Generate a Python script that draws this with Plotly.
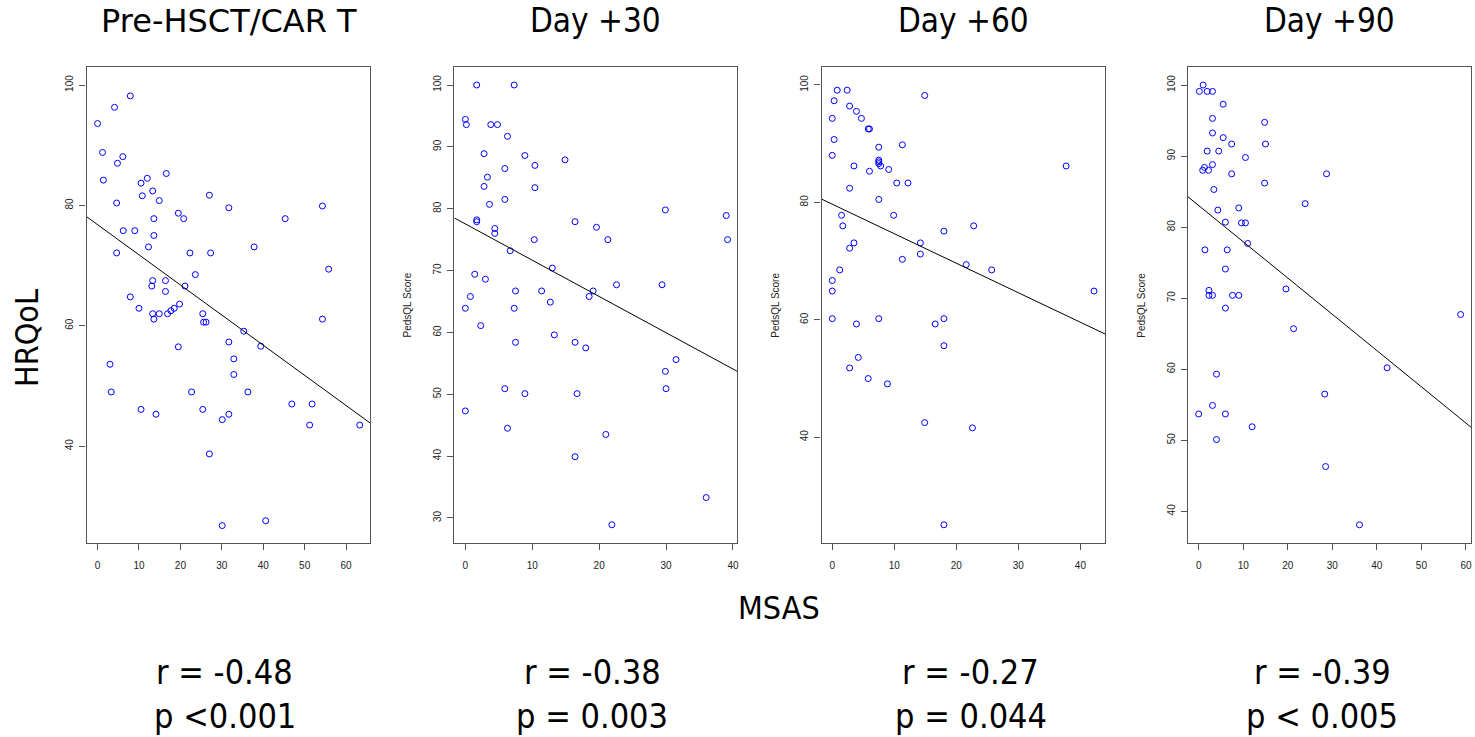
import plotly.graph_objects as go

W, H = 1475, 737

titles = ["Pre-HSCT/CAR T", "Day +30", "Day +60", "Day +90"]
r_labels = ["r = -0.48", "r = -0.38", "r = -0.27", "r = -0.39"]
p_labels = ["p <0.001", "p = 0.003", "p = 0.044", "p < 0.005"]

# Pre-HSCT/CAR T
x1 = [0, 4.1, 7.9, 1.2, 6.1, 4.8, 1.4, 12.0, 16.6, 10.5, 10.8, 13.3, 4.6, 14.9, 27.0, 31.7,
      54.3, 19.5, 20.8, 13.6, 45.3, 6.2, 9.0, 13.6, 12.3, 37.8, 4.6, 22.3, 27.3, 55.8, 23.6,
      13.3, 16.4, 13.1, 21.1, 16.4, 7.9, 19.8, 10.0, 18.5, 17.7, 13.3, 14.9, 16.9, 25.4, 13.6,
      54.3, 25.6, 26.2, 35.3, 19.5, 39.4, 31.7, 32.9, 32.9, 3.0, 3.3, 22.7, 36.3, 10.5, 25.4,
      14.1, 31.7, 30.1, 46.9, 51.8, 51.2, 63.3, 27.0, 30.1, 40.6]
y1 = [93.6, 96.3, 98.2, 88.8, 88.1, 87.0, 84.2, 84.5, 85.3, 83.7, 81.6, 82.4, 80.4, 80.8, 81.7, 79.6,
      79.9, 78.7, 77.8, 77.8, 77.8, 75.8, 75.8, 75.0, 73.1, 73.1, 72.1, 72.1, 72.1, 69.4, 68.5,
      67.5, 67.5, 66.6, 66.6, 65.7, 64.8, 63.6, 62.9, 62.9, 62.5, 62.0, 62.0, 62.0, 62.0, 61.1,
      61.1, 60.6, 60.6, 59.1, 56.5, 56.6, 57.3, 54.5, 51.9, 53.6, 49.0, 49.0, 49.0, 46.1, 46.1,
      45.3, 45.3, 44.4, 47.0, 47.0, 43.5, 43.5, 38.7, 26.8, 27.6]

# Day +30
x2 = [1.7, 7.3, 0, 0.15, 3.8, 4.8, 6.3, 2.8, 8.9, 14.9, 10.4, 5.9, 3.3, 2.8, 10.4, 3.6, 5.9,
      29.9, 39.0, 1.7, 1.7, 16.4, 19.6, 4.4, 4.4, 10.3, 21.3, 39.2, 6.7, 13.0, 1.4, 3.0, 22.6,
      29.4, 7.5, 11.4, 19.1, 0.75, 18.5, 12.7, 0, 7.3, 2.3, 13.3, 7.5, 16.4, 18.0, 31.5, 29.9,
      5.9, 30.0, 8.9, 16.7, 0, 6.3, 21.0, 16.4, 36.0, 21.9]
y2 = [100, 100, 94.45, 93.6, 93.6, 93.6, 91.7, 88.9, 88.6, 87.9, 87.0, 86.5, 85.1, 83.6, 83.4, 80.7, 81.5,
      79.8, 78.9, 78.2, 77.9, 77.9, 77.0, 76.8, 76.0, 75.0, 75.0, 75.0, 73.2, 70.4, 69.4, 68.6, 67.7,
      67.7, 66.7, 66.7, 66.7, 65.8, 65.8, 64.9, 63.9, 63.9, 61.1, 59.6, 58.4, 58.4, 57.5, 55.6, 53.7,
      50.9, 50.9, 50.1, 50.1, 47.3, 44.5, 43.5, 39.9, 33.3, 28.9]

# Day +60
x3 = [0.8, 2.4, 14.9, 0.3, 2.8, 3.9, 0, 4.7, 5.8, 6.0, 0.3, 11.3, 7.5, 0, 7.5, 7.5, 7.5, 7.8,
      3.5, 37.7, 9.1, 6.0, 10.4, 12.2, 2.8, 7.5, 1.5, 9.9, 1.7, 22.8, 18.0, 3.5, 14.2, 2.8,
      14.2, 11.3, 21.6, 1.2, 25.7, 0, 0, 42.2, 0, 7.5, 18.0, 3.9, 16.6, 18.0, 4.2, 2.8, 5.8,
      8.9, 14.9, 22.6, 18.0]
y3 = [99.1, 99.1, 98.2, 97.3, 96.4, 95.5, 94.3, 94.3, 92.5, 92.5, 90.7, 89.8, 89.4, 88.0, 87.2, 86.9, 86.6, 86.2,
      86.2, 86.2, 85.6, 85.3, 83.3, 83.3, 82.4, 80.5, 77.8, 77.8, 76.0, 76.0, 75.1, 73.1, 73.1, 72.2,
      71.2, 70.3, 69.4, 68.5, 68.5, 66.7, 64.9, 64.9, 60.2, 60.2, 60.2, 59.3, 59.3, 55.6, 53.6, 51.8, 50.0,
      49.1, 42.5, 41.6, 25.1]

# Day +90
x4 = [1.0, 0.15, 1.9, 3.1, 5.5, 14.8, 3.1, 3.1, 5.5, 7.4, 15.0, 1.9, 4.5, 10.5, 3.1, 1.3, 0.9,
      2.2, 7.4, 28.7, 14.8, 3.4, 23.9, 9.0, 4.3, 6.0, 9.6, 10.5, 11.0, 1.4, 6.4, 6.0, 19.6, 2.3,
      2.3, 3.1, 7.6, 9.0, 6.0, 58.8, 21.3, 42.3, 4.0, 28.3, 3.1, 0, 6.0, 12.0, 4.0, 28.5, 36.1]
y4 = [100, 99.1, 99.1, 99.1, 97.3, 94.75, 95.3, 93.25, 92.6, 91.7, 91.7, 90.7, 90.7, 89.8, 88.8, 88.4, 88.0,
      88.0, 87.5, 87.5, 86.2, 85.3, 83.3, 82.7, 82.4, 80.7, 80.6, 80.6, 77.7, 76.8, 76.8, 74.1, 71.3, 71.1,
      70.4, 70.4, 70.4, 70.4, 68.6, 67.7, 65.7, 60.2, 59.3, 56.5, 54.9, 53.7, 53.7, 51.9, 50.1, 46.3, 38.1]

# fitted regression lines (intercept, slope)
fit_intercept = [76.8, 77.54, 79.69, 83.04]
fit_slope = [-0.5008, -0.5864, -0.5026, -0.5104]

x_ticks = [[0, 10, 20, 30, 40, 50, 60], [0, 10, 20, 30, 40], [0, 10, 20, 30, 40], [0, 10, 20, 30, 40, 50, 60]]
y_ticks = [[40, 60, 80, 100], [30, 40, 50, 60, 70, 80, 90, 100], [40, 60, 80, 100], [40, 50, 60, 70, 80, 90, 100]]

xs = [x1, x2, x3, x4]
ys = [y1, y2, y3, y4]

# layout geometry (pixels)
box_left = [86.7, 455.0, 822.7, 1189.3]
box_right = [371.0, 738.3, 1106.7, 1473.3]
box_top, box_bottom = 66.7, 543.0
x_ranges = [[-2.65, 65.9], [-1.64, 40.65], [-1.72, 44.0], [-2.47, 61.2]]
y_ranges = [[23.9, 103.05], [25.95, 102.96], [22.0, 103.1], [35.54, 102.58]]
text_centers = [225, 593, 972, 1324]

title_fonts = ["DejaVu Sans", "DejaVu Sans Condensed", "DejaVu Sans Condensed", "DejaVu Sans Condensed"]
text_font = "DejaVu Sans Condensed"
tick_font = "Liberation Sans"

fig = go.Figure()
layout = dict(
    width=W, height=H, margin=dict(l=0, r=0, t=0, b=0),
    paper_bgcolor="white", plot_bgcolor="white", showlegend=False,
)
annotations = []
for i in range(4):
    sfx = "" if i == 0 else str(i + 1)
    xa, ya = "x" + sfx, "y" + sfx
    fig.add_trace(go.Scatter(
        x=xs[i], y=ys[i], mode="markers", xaxis=xa, yaxis=ya,
        marker=dict(symbol="circle-open", size=6, color="#0000ff", line=dict(width=1, color="#0000ff")),
        hoverinfo="x+y",
    ))
    lx = x_ranges[i]
    ly = [fit_intercept[i] + fit_slope[i] * v for v in lx]
    fig.add_trace(go.Scatter(
        x=lx, y=ly, mode="lines", xaxis=xa, yaxis=ya,
        line=dict(color="black", width=1), hoverinfo="skip",
    ))
    axis_common = dict(
        showgrid=False, zeroline=False, showline=True, mirror=True,
        linecolor="#555555", linewidth=1.2, ticks="outside", ticklen=6,
        tickcolor="#555555", tickwidth=1,
        tickfont=dict(family=tick_font, size=10, color="#222222"),
    )
    layout["xaxis" + sfx] = dict(
        axis_common,
        domain=[box_left[i] / W, box_right[i] / W],
        range=x_ranges[i], tickvals=x_ticks[i], anchor=ya, ticklabelstandoff=7,
    )
    layout["yaxis" + sfx] = dict(
        axis_common,
        domain=[1 - box_bottom / H, 1 - box_top / H],
        range=y_ranges[i], tickvals=y_ticks[i], anchor=xa, tickangle=-90,
        ticklabelstandoff=2,
    )
    cx = text_centers[i] / W
    annotations.append(dict(
        text=titles[i], x=(box_left[i] + box_right[i]) / 2 / W, y=1 - 21 / H,
        xref="paper", yref="paper", showarrow=False, xanchor="center", yanchor="middle",
        font=dict(family=title_fonts[i], size=32 if i == 0 else 33, color="black"),
    ))
    annotations.append(dict(
        text=r_labels[i], x=cx, y=1 - 672 / H,
        xref="paper", yref="paper", showarrow=False, xanchor="center", yanchor="middle",
        font=dict(family=text_font, size=34, color="black"),
    ))
    annotations.append(dict(
        text=p_labels[i], x=cx, y=1 - 716 / H,
        xref="paper", yref="paper", showarrow=False, xanchor="center", yanchor="middle",
        font=dict(family=text_font, size=34, color="black"),
    ))
    if i > 0:
        annotations.append(dict(
            text="PedsQL Score", x=(box_left[i] - 47) / W, y=1 - 305 / H,
            xref="paper", yref="paper", showarrow=False, xanchor="center", yanchor="middle",
            textangle=-90, font=dict(family=tick_font, size=10, color="#222222"),
        ))

annotations.append(dict(
    text="HRQoL", x=27 / W, y=1 - 338 / H, xref="paper", yref="paper", showarrow=False,
    xanchor="center", yanchor="middle", textangle=-90,
    font=dict(family=text_font, size=32, color="black"),
))
annotations.append(dict(
    text="MSAS", x=780 / W, y=1 - 608 / H, xref="paper", yref="paper", showarrow=False,
    xanchor="center", yanchor="middle",
    font=dict(family=text_font, size=32, color="black"),
))
layout["annotations"] = annotations
fig.update_layout(**layout)
fig.write_html(
    "out.html",
    config={"displayModeBar": False},
    post_script="document.body.style.margin='0px';document.body.style.padding='0px';"
                "document.documentElement.style.overflow='hidden';",
)
